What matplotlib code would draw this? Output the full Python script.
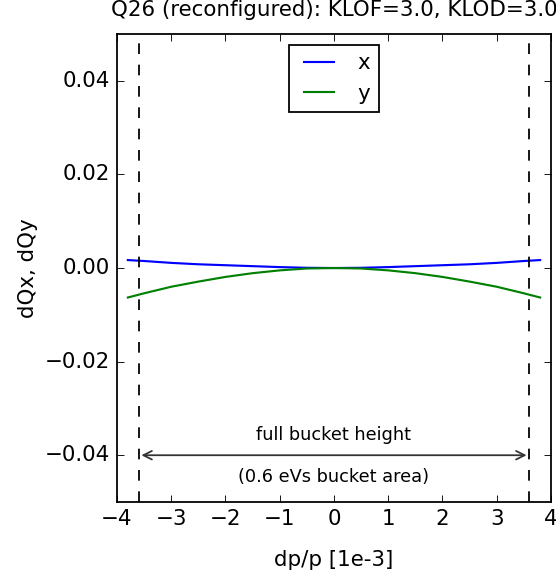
import matplotlib
matplotlib.use("Agg")
import matplotlib.pyplot as plt

plt.style.use('classic')

dpp = [-3.8, -3.5, -3.0, -2.5, -2.0, -1.5, -1.0, -0.5, 0.0, 0.5, 1.0, 1.5, 2.0, 2.5, 3.0, 3.5, 3.8]
dqx = [0.0017, 0.0015, 0.0011, 0.0008, 0.0006, 0.0004, 0.0002, 0.00005, 0.0,
       0.00005, 0.0002, 0.0004, 0.0006, 0.0008, 0.0011, 0.0015, 0.0017]
dqy = [-0.0063, -0.0054, -0.0040, -0.0029, -0.0019, -0.0011, -0.0005, -0.0001, 0.0,
       -0.0001, -0.0005, -0.0011, -0.0019, -0.0029, -0.0040, -0.0054, -0.0063]
bucket_edges = [-3.6, 3.6]
arrow_ends = [-3.55, 3.55]
arrow_y = -0.04

DPI = 128
fig = plt.figure(figsize=(556 / DPI, 571 / DPI), dpi=DPI, facecolor='white')
ax = fig.add_axes([0.2104, 0.1208, 0.7806, 0.8196])
ax.plot(dpp, dqx, color='b', lw=1.2, label='x')
ax.plot(dpp, dqy, color='g', lw=1.2, label='y')
for e in bucket_edges:
    ax.axvline(e, color='k', linestyle='--')
ax.annotate('', xy=(arrow_ends[1], arrow_y), xytext=(arrow_ends[0], arrow_y),
            arrowprops=dict(arrowstyle='<->', color='#333333', lw=1, shrinkA=0, shrinkB=0))
ax.text(0, -0.0356, 'full bucket height', ha='center', va='center', fontsize=10)
ax.text(0, -0.0447, '(0.6 eVs bucket area)', ha='center', va='center', fontsize=10)
ax.set_xlim(-4, 4)
ax.set_ylim(-0.05, 0.05)
ax.set_yticks([-0.04, -0.02, 0.0, 0.02, 0.04])
ax.set_xticks(range(-4, 5))
ax.set_title('Q26 (reconfigured): KLOF=3.0, KLOD=3.0', fontsize=12, pad=10)
ax.set_xlabel('dp/p [1e-3]', labelpad=12)
ax.set_ylabel('dQx, dQy', labelpad=4)
ax.legend(loc='upper center', fontsize=12)
fig.savefig('out.png', dpi=DPI, facecolor='white')
